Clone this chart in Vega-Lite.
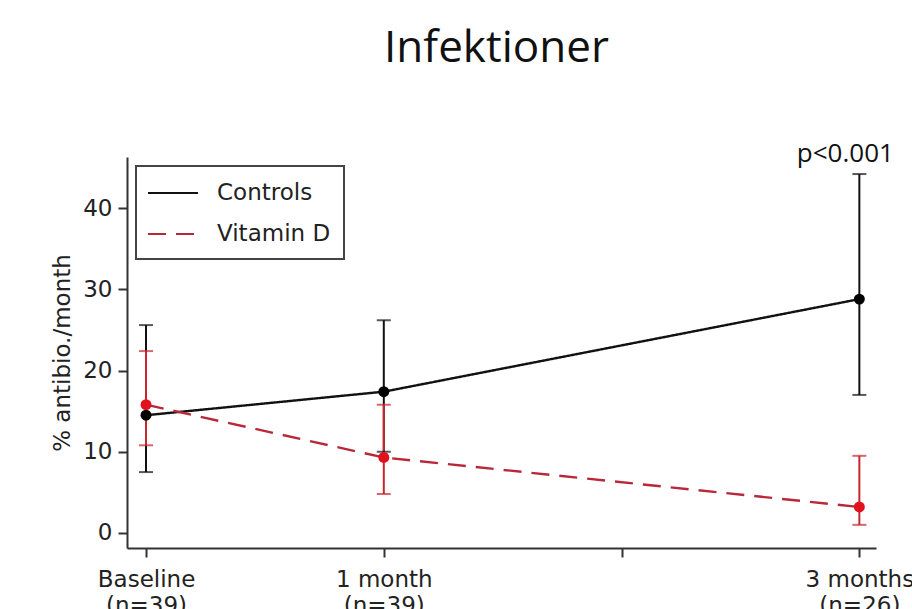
{
  "$schema": "https://vega.github.io/schema/vega-lite/v6.json",
  "autosize": {"type": "none"},
  "width": 749,
  "height": 391,
  "padding": {"left": 127, "top": 157, "right": 36, "bottom": 61},
  "background": "white",
  "title": {
    "text": "Infektioner",
    "font": "Open Sans",
    "fontSize": 44,
    "fontWeight": "normal",
    "color": "#111111",
    "anchor": "middle",
    "offset": 70,
    "dx": -5
  },
  "datasets": {
    "series": [
      {"group": "Controls", "month": 0, "mean": 14.5, "lo": 7.5, "hi": 25.6},
      {"group": "Controls", "month": 1, "mean": 17.4, "lo": 10.0, "hi": 26.2},
      {"group": "Controls", "month": 3, "mean": 28.8, "lo": 17.0, "hi": 44.2},
      {"group": "Vitamin D", "month": 0, "mean": 15.8, "lo": 10.8, "hi": 22.4},
      {"group": "Vitamin D", "month": 1, "mean": 9.3, "lo": 4.8, "hi": 15.8},
      {"group": "Vitamin D", "month": 3, "mean": 3.2, "lo": 1.0, "hi": 9.5}
    ],
    "notes": [
      {"month": 3, "value": 44.2, "label": "p<0.001"}
    ]
  },
  "config": {
    "view": {"stroke": null},
    "legend": {"strokeWidth": 2},
    "axis": {
      "grid": false,
      "domainColor": "#333333",
      "domainWidth": 2,
      "tickColor": "#333333",
      "tickWidth": 2,
      "tickSize": 9,
      "labelFont": "DejaVu Sans",
      "labelFontSize": 23,
      "labelColor": "#222222",
      "titleFont": "DejaVu Sans",
      "titleFontSize": 23,
      "titleFontWeight": "normal",
      "titleColor": "#222222"
    }
  },
  "layer": [
    {
      "data": {"name": "series"},
      "mark": {"type": "rule", "strokeWidth": 2},
      "encoding": {
        "x": {
          "field": "month", "type": "quantitative",
          "scale": {"domain": [-0.08, 3.07], "nice": false, "zero": false},
          "axis": {
            "title": null,
            "values": [0, 1, 2, 3],
            "labelPadding": 11,
            "labelLineHeight": 26,
            "labelExpr": "datum.value == 0 ? ['Baseline', '(n=39)'] : datum.value == 1 ? ['1 month', '(n=39)'] : datum.value == 3 ? ['3 months', '(n=26)'] : ''"
          }
        },
        "y": {
          "field": "lo", "type": "quantitative",
          "scale": {"domain": [-1.85, 46.3], "nice": false, "zero": false},
          "axis": {
            "title": "% antibio./month",
            "values": [0, 10, 20, 30, 40],
            "labelPadding": 6,
            "titlePadding": 8
          }
        },
        "y2": {"field": "hi"},
        "color": {"condition": {"test": "datum.group === 'Vitamin D'", "value": "#c8262e"}, "value": "#111111"}
      }
    },
    {
      "data": {"name": "series"},
      "mark": {"type": "tick", "orient": "horizontal", "size": 14, "thickness": 2},
      "encoding": {
        "x": {"field": "month", "type": "quantitative"},
        "y": {"field": "lo", "type": "quantitative"},
        "color": {"condition": {"test": "datum.group === 'Vitamin D'", "value": "#c8262e"}, "value": "#111111"}
      }
    },
    {
      "data": {"name": "series"},
      "mark": {"type": "tick", "orient": "horizontal", "size": 14, "thickness": 2},
      "encoding": {
        "x": {"field": "month", "type": "quantitative"},
        "y": {"field": "hi", "type": "quantitative"},
        "color": {"condition": {"test": "datum.group === 'Vitamin D'", "value": "#c8262e"}, "value": "#111111"}
      }
    },
    {
      "data": {"name": "series"},
      "mark": {"type": "line", "strokeWidth": 2.4},
      "encoding": {
        "x": {"field": "month", "type": "quantitative"},
        "y": {"field": "mean", "type": "quantitative"},
        "color": {
          "field": "group", "type": "nominal",
          "scale": {"domain": ["Controls", "Vitamin D"], "range": ["#111111", "#b8283a"]},
          "legend": {
            "title": null,
            "orient": "none",
            "legendX": 9,
            "legendY": 9,
            "strokeColor": "#444444",
            "fillColor": "white",
            "padding": 13,
            "rowPadding": 15,
            "symbolType": "M-2,0H2",
            "symbolSize": 625,
            "symbolOffset": 10,
            "symbolStrokeWidth": 2.2,
            "labelOffset": 30,
            "labelFont": "DejaVu Sans",
            "labelFontSize": 23,
            "labelColor": "#222222",
            "labelLimit": 300
          }
        },
        "strokeDash": {
          "field": "group", "type": "nominal",
          "scale": {"domain": ["Controls", "Vitamin D"], "range": [[1, 0], [18, 10]]},
          "legend": null
        }
      }
    },
    {
      "data": {"name": "series"},
      "mark": {"type": "point", "filled": true, "size": 120, "opacity": 1},
      "encoding": {
        "x": {"field": "month", "type": "quantitative"},
        "y": {"field": "mean", "type": "quantitative"},
        "color": {"condition": {"test": "datum.group === 'Vitamin D'", "value": "#e0121c"}, "value": "#000000"}
      }
    },
    {
      "data": {"name": "notes"},
      "mark": {"type": "text", "font": "Open Sans", "fontSize": 26, "color": "#111111", "baseline": "alphabetic", "align": "center", "dx": -14, "dy": -12},
      "encoding": {
        "x": {"field": "month", "type": "quantitative"},
        "y": {"field": "value", "type": "quantitative"},
        "text": {"field": "label"}
      }
    }
  ]
}
